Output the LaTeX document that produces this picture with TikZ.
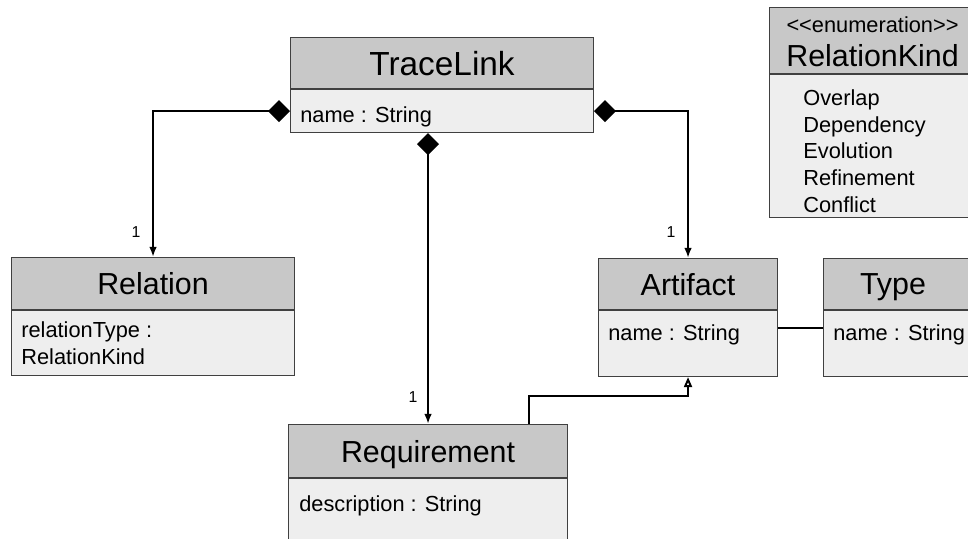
\documentclass[tikz,border=0pt]{standalone}
\usepackage{fontspec}
\setmainfont{Liberation Sans}
\usetikzlibrary{arrows.meta}

\definecolor{headgray}{RGB}{200,200,200}
\definecolor{bodygray}{RGB}{238,238,238}

\begin{document}
\begin{tikzpicture}
  [head/.style={draw=black!75, fill=headgray, line width=0.6pt, inner sep=0pt, anchor=north west,
                text depth=0pt, font=\fontsize{17.3}{21}\selectfont},
   body/.style={draw=black!75, fill=bodygray, line width=0.6pt, inner sep=0pt, anchor=north},
   title/.style={inner sep=0pt, text depth=0pt, font=\fontsize{17.3}{21}\selectfont},
   attr/.style={anchor=north west, inner sep=0pt, align=left, font=\fontsize{12.4}{15.3}\selectfont},
   mult/.style={inner sep=0pt, font=\fontsize{9}{10}\selectfont},
   comp/.style={line width=1.1pt, {Diamond[length=0.44cm,width=0.44cm]}-{Latex[length=0.2cm,width=0.15cm]}},
   gen/.style={line width=1.1pt, -{Triangle[open,length=0.2cm,width=0.16cm]}},
   assoc/.style={line width=1.1pt}]
  \useasboundingbox (0,0) rectangle (19.36,-10.78);

  % classes
  \node[head, minimum width=6.06cm, minimum height=1.02cm, font=\fontsize{19}{23}\selectfont] (tl-head) at (5.8,-0.74) {TraceLink};
  \node[body, minimum width=6.06cm, minimum height=0.86cm] (tl-body) at (tl-head.south) {};
  \node[attr] (tl-attr) at ([shift={(0.2,-0.34)}]tl-body.north west) {name : String};

  \node[head, minimum width=5.66cm, minimum height=1.04cm] (rel-head) at (0.22,-5.14) {Relation};
  \node[body, minimum width=5.66cm, minimum height=1.3cm] (rel-body) at (rel-head.south) {};
  \node[attr] (rel-attr) at ([shift={(0.2,-0.22)}]rel-body.north west) {relationType :\\RelationKind};

  \node[head, minimum width=3.58cm, minimum height=1.02cm] (art-head) at (11.96,-5.16) {Artifact};
  \node[body, minimum width=3.58cm, minimum height=1.32cm] (art-body) at (art-head.south) {};
  \node[attr] (art-attr) at ([shift={(0.2,-0.28)}]art-body.north west) {name : String};

  \node[head, minimum width=3.3cm, minimum height=1.02cm] (type-head) at (16.46,-5.16) {};
  \node[body, minimum width=3.3cm, minimum height=1.32cm] (type-body) at (type-head.south) {};
  \node[title] (type-title) at ([xshift=1.4cm]type-head.west) {Type};
  \node[attr] (type-attr) at ([shift={(0.2,-0.28)}]type-body.north west) {name : String};

  \node[head, minimum width=5.58cm, minimum height=1.06cm] (req-head) at (5.76,-8.48) {Requirement};
  \node[body, minimum width=5.58cm, minimum height=1.6cm] (req-body) at (req-head.south) {};
  \node[attr] (req-attr) at ([shift={(0.22,-0.34)}]req-body.north west) {description : String};

  % enumeration
  \node[head, minimum width=4.12cm, minimum height=1.32cm] (rk-head) at (15.38,-0.14) {};
  \node[body, minimum width=4.12cm, minimum height=2.86cm] (rk-body) at (rk-head.south) {};
  \node[inner sep=0pt, font=\fontsize{12.4}{15}\selectfont] (rk-stereo) at ([yshift=-0.36cm]rk-head.north)
    {<\kern0pt<enumeration>\kern0pt>};
  \node[title] (rk-title) at ([yshift=-0.96cm]rk-head.north) {RelationKind};
  \node[attr] (rk-items) at ([shift={(0.68,-0.3)}]rk-body.north west)
    {Overlap\\Dependency\\Evolution\\Refinement\\Conflict};

  % connectors
  \draw[comp] (tl-body.west) -| (rel-head.north);
  \draw[comp] (tl-body.east) -| (art-head.north);
  \draw[comp] (tl-body.south -| req-head.north) -- (req-head.north);
  \coordinate (gen-start) at ([xshift=-0.78cm]req-head.north east);
  \draw[gen] (gen-start) -- ++(0,0.56) -| (art-body.south);
  \draw[assoc] ([yshift=0.32cm]art-body.east) -- ([yshift=0.32cm]type-body.west);

  % multiplicities
  \node[mult] (rel-mult) at ([shift={(-0.34,0.5)}]rel-head.north) {1};
  \node[mult] (art-mult) at ([shift={(-0.34,0.52)}]art-head.north) {1};
  \node[mult] (req-mult) at ([shift={(-0.3,0.54)}]req-head.north) {1};
\end{tikzpicture}
\end{document}
